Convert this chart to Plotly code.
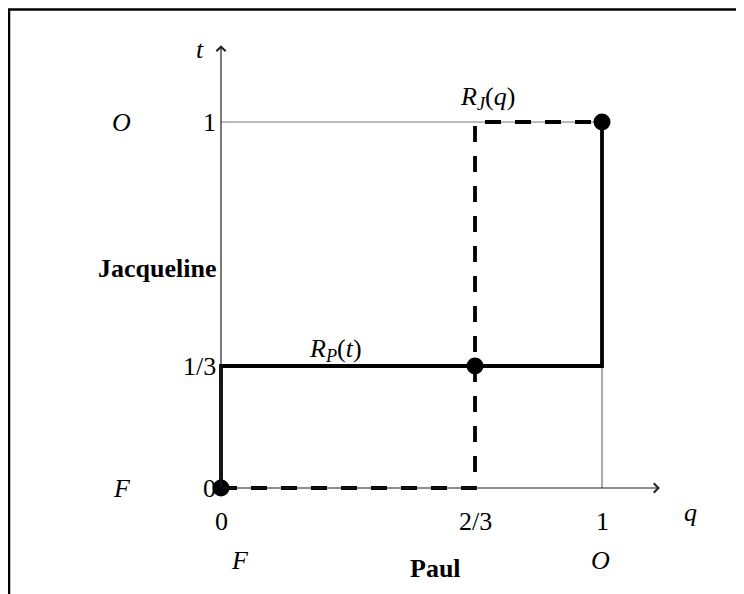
import plotly.graph_objects as go

# ---- data ----
q_ticks = [0, 2/3, 1]
q_tick_labels = ["0", "2/3", "1"]
t_ticks = [0, 1/3, 1]
t_tick_labels = ["0", "1/3", "1"]

# Paul's best response R_P(t) (solid)
rp_q = [0, 0, 1, 1]
rp_t = [0, 1/3, 1/3, 1]
# Jacqueline's best response R_J(q) (dashed)
rj_q = [0, 2/3, 2/3, 1]
rj_t = [0, 0, 1, 1]
# Nash equilibria
eq_q = [0, 2/3, 1]
eq_t = [0, 1/3, 1]

# page has an 8px body margin, so the figure is sized to fill the rest
W, H = 736, 586
OX, OY = 213, 480      # origin in figure pixels
SX, SY = 381, 366      # pixels per unit
FONT = "Liberation Serif"
FS = 26

fig = go.Figure()

# thin guide lines
fig.add_trace(go.Scatter(x=[0, 1], y=[1, 1], mode="lines",
                         line=dict(color="#777777", width=1), hoverinfo="skip"))
fig.add_trace(go.Scatter(x=[1, 1], y=[0, 1/3], mode="lines",
                         line=dict(color="#555555", width=1), hoverinfo="skip"))

fig.add_trace(go.Scatter(x=rj_q, y=rj_t, mode="lines",
                         line=dict(color="black", width=3.8, dash="16px,14px"),
                         hoverinfo="skip"))
fig.add_trace(go.Scatter(x=rp_q, y=rp_t, mode="lines",
                         line=dict(color="black", width=3.8), hoverinfo="skip"))
fig.add_trace(go.Scatter(x=eq_q, y=eq_t, mode="markers",
                         marker=dict(color="black", size=17), hoverinfo="skip"))

ann = []
# axes arrows
ann.append(dict(x=0, y=1.21, ax=0, ay=0, xref="x", yref="y", axref="x", ayref="y",
                showarrow=True, arrowhead=4, arrowsize=1.5, arrowwidth=1.2,
                arrowcolor="#222222", text=""))
ann.append(dict(x=1.152, y=0, ax=0, ay=0, xref="x", yref="y", axref="x", ayref="y",
                showarrow=True, arrowhead=4, arrowsize=1.5, arrowwidth=1.2,
                arrowcolor="#222222", text=""))

font = dict(family=FONT, size=FS, color="black")
# tick labels
for v, lab in zip(q_ticks, q_tick_labels):
    ann.append(dict(x=v, y=0, xref="x", yref="y", text=lab, showarrow=False,
                    yshift=-33, font=font))
for v, lab in zip(t_ticks, t_tick_labels):
    ann.append(dict(x=0, y=v, xref="x", yref="y", text=lab, showarrow=False,
                    xanchor="right", xshift=-3, font=font))

# axis variable names
ann.append(dict(x=-0.055, y=1.197, xref="x", yref="y", text="<i>t</i>",
                showarrow=False, font=font))
ann.append(dict(x=1.231, y=-0.068, xref="x", yref="y", text="<i>q</i>",
                showarrow=False, font=font))

# curve labels
ann.append(dict(x=0.70, y=1.066, xref="x", yref="y",
                text="<i>R</i><sub><i>J</i></sub>(<i>q</i>)", showarrow=False, font=font))
ann.append(dict(x=0.30, y=0.378, xref="x", yref="y",
                text="<i>R</i><sub><i>P</i></sub>(<i>t</i>)", showarrow=False, font=font))

# strategy labels
ann.append(dict(x=-0.26, y=1, xref="x", yref="y", text="<i>O</i>", showarrow=False, font=font))
ann.append(dict(x=-0.26, y=0, xref="x", yref="y", text="<i>F</i>", showarrow=False, font=font))
ann.append(dict(x=-0.168, y=0.601, xref="x", yref="y", text="<b>Jacqueline</b>",
                showarrow=False, font=font))
ann.append(dict(x=0.05, y=-0.197, xref="x", yref="y", text="<i>F</i>", showarrow=False, font=font))
ann.append(dict(x=0.5617, y=-0.219, xref="x", yref="y", text="<b>Paul</b>",
                showarrow=False, font=font))
ann.append(dict(x=0.995, y=-0.197, xref="x", yref="y", text="<i>O</i>", showarrow=False, font=font))

# outer frame (cropped box)
shapes = [
    dict(type="line", xref="paper", yref="paper", x0=1 / W, x1=1 / W,
         y0=0, y1=1 - 1.5 / H, line=dict(color="black", width=2.5)),
    dict(type="line", xref="paper", yref="paper", x0=0, x1=1,
         y0=1 - 1.5 / H, y1=1 - 1.5 / H, line=dict(color="black", width=2.5)),
]

fig.update_layout(
    width=W, height=H,
    margin=dict(l=0, r=0, t=0, b=0),
    plot_bgcolor="white", paper_bgcolor="white",
    showlegend=False,
    annotations=ann, shapes=shapes,
    xaxis=dict(range=[-OX / SX, (W - OX) / SX], visible=False, fixedrange=True),
    yaxis=dict(range=[(OY - H) / SY, OY / SY], visible=False, fixedrange=True),
)

fig.write_html("out.html")
